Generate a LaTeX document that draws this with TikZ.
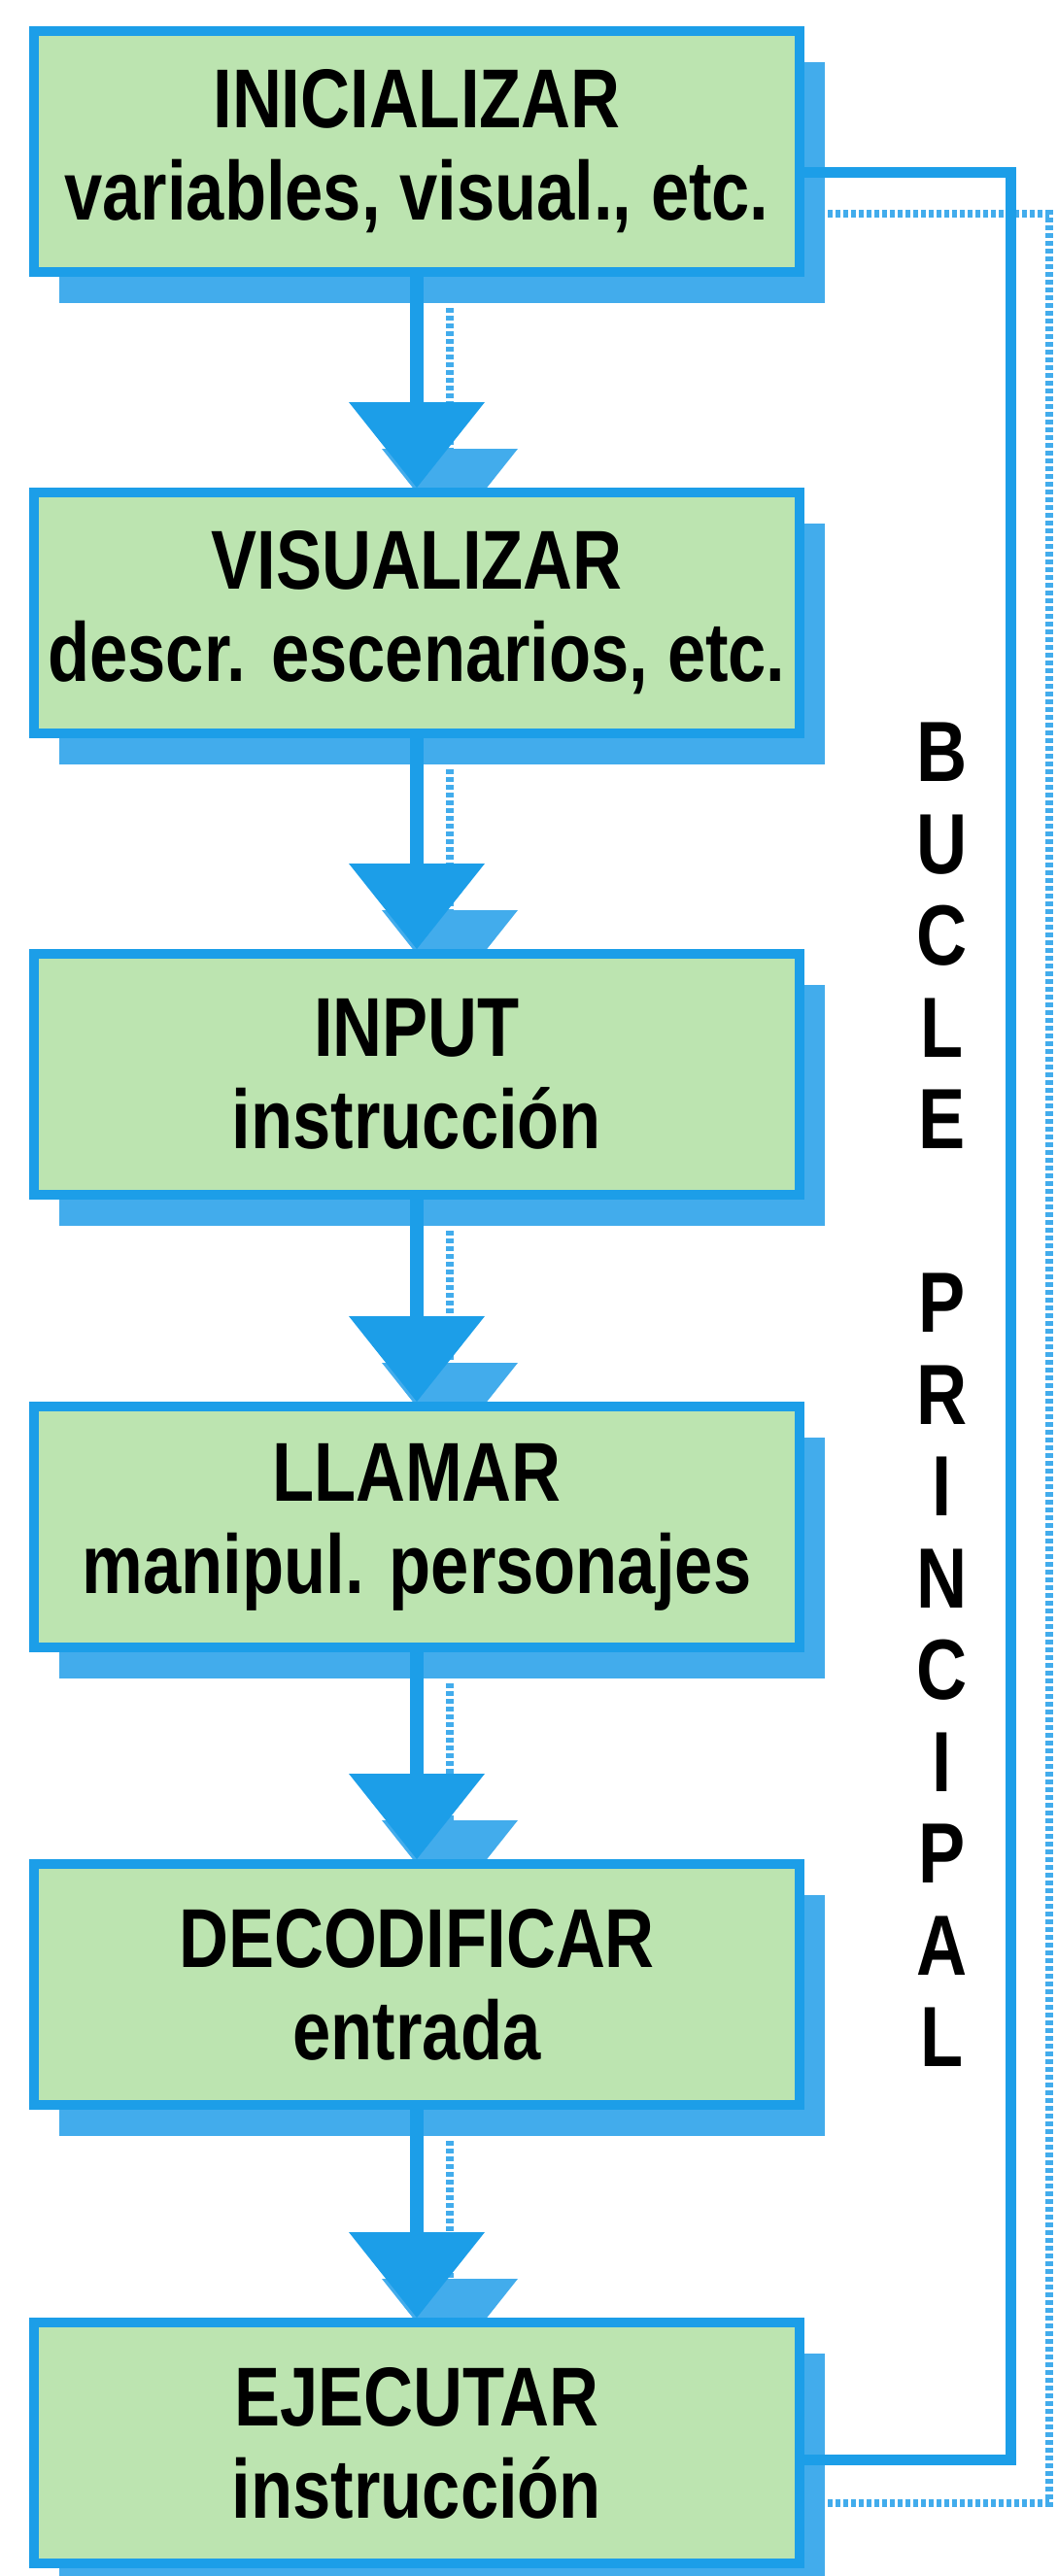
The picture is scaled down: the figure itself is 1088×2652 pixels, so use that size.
\documentclass[tikz,border=0pt]{standalone}
\usepackage{fontspec}
\setmainfont{Liberation Sans}[FakeStretch=0.82]
\usetikzlibrary{positioning, arrows.meta, shadows}
\pgfdeclarelayer{fondo}
\pgfsetlayers{fondo,main}
\definecolor{azul}{RGB}{28,158,232}
\definecolor{trama}{RGB}{66,172,236}
\definecolor{verde}{RGB}{188,228,176}

\begin{document}
\begin{tikzpicture}[x=0.5pt, y=-0.5pt,
	caja/.style={rectangle, draw=azul, line width=5pt, fill=verde, minimum width=394pt,
	minimum height=124pt, inner sep=0pt, align=center,
	font=\fontsize{43pt}{47.5pt}\selectfont\bfseries,
	drop shadow={shadow xshift=13pt, shadow yshift=-16pt, fill=trama, opacity=1}},
	flecha/.style={azul, line width=7pt, -{Triangle[width=70pt, length=44pt, line width=0pt]}},
	sombraflecha/.style={trama, line width=4pt, dash pattern=on 2.5pt off 1.5pt,
	-{Triangle[width=70pt, length=44pt, line width=0pt]}},
	bucle/.style={azul, line width=5.5pt, line join=miter},
	sombra/.style={trama, line width=4pt, dash pattern=on 2.5pt off 1.5pt, line join=miter}]
		
		\useasboundingbox (0,0) rectangle (1088,2652);
		
		%Nodes
		\node (inicializar) at (429,156) [caja]{INICIALIZAR \\ variables, visual., etc.};
		\node (visualizar) at (429,631) [caja]{VISUALIZAR \\ descr. escenarios, etc.};
		\node (input) at (429,1106) [caja]{INPUT \\ instrucción};
		\node (llamar) at (429,1572) [caja]{LLAMAR \\ manipul. personajes};
		\node (decodificar) at (429,2043) [caja]{DECODIFICAR \\ entrada};
		\node (ejecutar) at (429,2515) [caja]{EJECUTAR \\ instrucción};
		
		\node (titulo) at (970,1436) [align=center, font=\fontsize{44pt}{47.25pt}\selectfont\bfseries]
		{B\\U\\C\\L\\E\\[47.25pt]P\\R\\I\\N\\C\\I\\P\\A\\L};
		
		\coordinate (esquina) at (1040,177);
		\coordinate (esquinasombra) at (1080,220);
		
		%Shadows
		\begin{pgfonlayer}{fondo}
		\foreach \a/\b in {inicializar/visualizar, visualizar/input, input/llamar,
			llamar/decodificar, decodificar/ejecutar}
		\draw[sombraflecha] ([xshift=17pt, yshift=-16pt]\a.south) -- ([xshift=17pt, yshift=-24pt]\b.north);
		\draw[sombra] ([xshift=12pt, yshift=-31pt]ejecutar.east) -| (esquinasombra)
		-- ([xshift=12pt, yshift=-32pt]inicializar.east);
		\end{pgfonlayer}
		
		%Links
		\foreach \a/\b in {inicializar/visualizar, visualizar/input, input/llamar,
			llamar/decodificar, decodificar/ejecutar}
		\draw[flecha] (\a.south) -- (\b.north);
		\draw[bucle] ([yshift=-8.5pt]ejecutar.east) -| (esquina) -- ([yshift=-10.5pt]inicializar.east);
		
\end{tikzpicture}
\end{document}
